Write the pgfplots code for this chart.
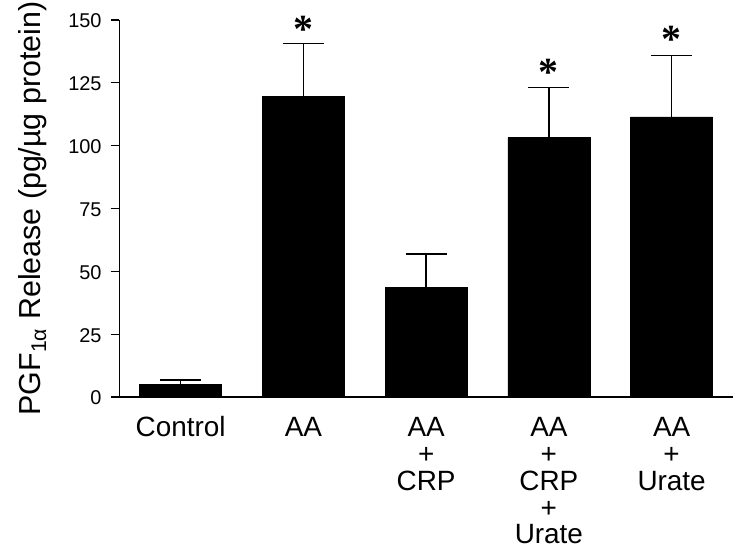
\documentclass[border=0pt]{standalone}
\usepackage{fontspec}
\setmainfont{Liberation Sans}
\newfontfamily\serifast{Liberation Serif}
\usepackage{pgfplots}
\pgfplotsset{compat=1.18}
\pgfplotstableread{
x y e
0 5.05 1.75
1 119.5 21.1
2 43.6 13.3
3 103.3 19.8
4 111.5 24.3
}\bars
\pgfplotstableread{
x y
1 148.8
3 131.4
4 144.8
}\stars
\newcommand{\xs}{\rule{0pt}{20.5bp}}
\begin{document}
\begin{tikzpicture}
\path[use as bounding box] (-119.3bp,-158bp) rectangle (619.7bp,397bp);
\begin{axis}[
  at={(0,0)}, anchor=south west,
  scale only axis, width=613.7bp, height=377bp,
  xmin=-0.5, xmax=4.5, ymin=0, ymax=150,
  clip=false,
  axis lines=left,
  axis line style={line width=1.2bp, -},
  ytick={0,25,50,75,100,125,150},
  yticklabels={},
  tick align=outside,
  major tick length=8.6bp,
  ytick style={line width=1.2bp, black},
  xtick={0,1,2,3,4},
  xtick style={draw=none},
  xticklabels={\xs Control, \xs AA, \xs AA\\+\\CRP, \xs AA\\+\\CRP\\+\\Urate, \xs AA\\+\\Urate},
  xticklabel style={align=center, anchor=north, inner sep=0pt, yshift=-10bp,
    font=\fontsize{28}{27}\selectfont},
  ylabel={PGF\textsubscript{1α} Release (pg/µg protein)},
  ylabel style={at={(axis description cs:-0.1418,0.5)}, anchor=center,
    font=\fontsize{30.5}{33}\selectfont},
]
\addplot[ybar, bar width=82bp, fill=black, draw=black,
  error bars/.cd, y dir=plus, y explicit,
  error bar style={line width=1.3bp, black},
  error mark options={rotate=90, mark size=20.5bp, line width=1.3bp, black}]
  table[x=x, y=y, y error=e] {\bars};
\addplot[draw=none, mark=none, nodes near coords={\serifast\bfseries *},
  every node near coord/.append style={anchor=center, inner sep=0pt,
    font=\fontsize{40}{40}\selectfont, yshift=-6bp}]
  table[x=x, y=y] {\stars};
\pgfplotsinvokeforeach{0,25,50,75,100,125,150}{
  \node[anchor=east, inner sep=0pt, font=\fontsize{20}{22}\selectfont,
    xshift=-17.6bp, yshift=-1bp] at (axis cs:-0.5,#1) {#1};
}
\end{axis}
\end{tikzpicture}
\end{document}
